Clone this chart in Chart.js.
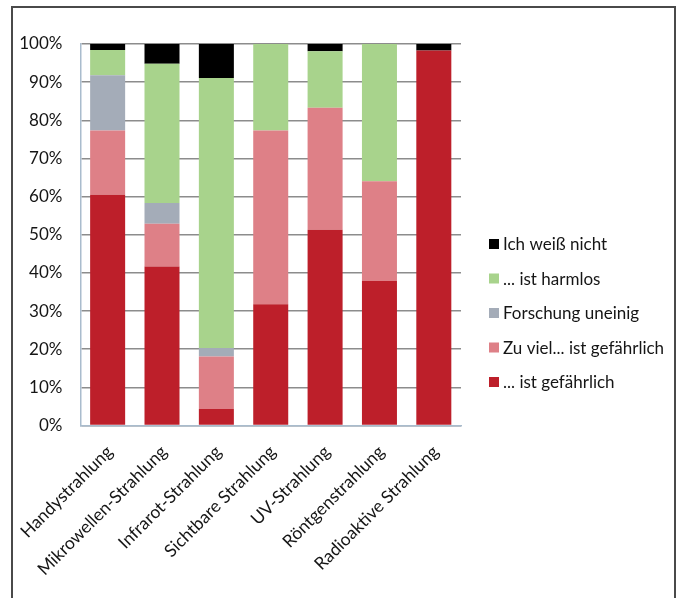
<!DOCTYPE html>
<html>
<head>
<meta charset="utf-8">
<script src="https://cdn.jsdelivr.net/npm/chart.js@4"></script>
<style>
  html, body { margin: 0; padding: 0; background: #fff; }
  #wrap { position: relative; width: 681px; height: 598px; overflow: hidden; }
  #frame { position: absolute; left: 11px; top: 6px; width: 661px; height: 600px;
           border: 2px solid #4a4a4a; border-bottom: none; }
  canvas { position: absolute; left: 0; top: 0; }
</style>
</head>
<body>
<div id="wrap">
  <div id="frame"></div>
  <canvas id="c" width="681" height="598"></canvas>
</div>
<script>
// Kategorien (Strahlungsarten)
const categories = [
  'Handystrahlung', 'Mikrowellen-Strahlung', 'Infrarot-Strahlung',
  'Sichtbare Strahlung', 'UV-Strahlung', 'Röntgenstrahlung', 'Radioaktive Strahlung'
];

// Antwortanteile in Prozent, von unten nach oben gestapelt
const istGefaehrlich   = [60.5, 41.7,  4.3, 31.8, 51.3, 37.9, 98.3];
const zuVielGefaehrlich= [16.8, 11.2, 13.8, 45.5, 32.0, 26.1,  0.0];
const forschungUneinig = [14.5,  5.4,  2.2,  0.0,  0.0,  0.0,  0.0];
const istHarmlos       = [ 6.6, 36.5, 70.8, 22.7, 14.8, 36.0,  0.0];
const weissNicht       = [ 1.6,  5.2,  8.9,  0.0,  1.9,  0.0,  1.7];

const seriesNames = ['... ist gefährlich', 'Zu viel... ist gefährlich',
  'Forschung uneinig', '... ist harmlos', 'Ich weiß nicht'];
const yTicks = [0, 10, 20, 30, 40, 50, 60, 70, 80, 90, 100];

const FONT = 'Lato, "Open Sans", sans-serif';

// Legende rechts neben dem Diagramm, oberster Stapel zuerst
const sideLegend = {
  id: 'sideLegend',
  afterDraw(chart) {
    const ctx = chart.ctx;
    const items = chart.data.datasets.slice().reverse();
    ctx.save();
    ctx.font = '17px ' + FONT;
    ctx.textBaseline = 'middle';
    ctx.textAlign = 'left';
    items.forEach((ds, i) => {
      const y = 244 + i * 34.5;
      ctx.fillStyle = ds.backgroundColor;
      ctx.fillRect(489, y - 5, 10, 10);
      ctx.fillStyle = '#151515';
      ctx.fillText(ds.label, 503, y + 1);
    });
    ctx.restore();
  }
};

const values = [istGefaehrlich, zuVielGefaehrlich, forschungUneinig, istHarmlos, weissNicht];
const colors = ['#BD1F2A', '#DE8087', '#A4ACB8', '#A8D38C', '#000000'];

new Chart(document.getElementById('c'), {
  type: 'bar',
  data: {
    labels: categories,
    datasets: values.map((v, i) => ({
      label: seriesNames[i],
      data: v,
      backgroundColor: colors[i],
      borderWidth: 0,
      categoryPercentage: 1.0,
      barPercentage: 0.644
    }))
  },
  options: {
    responsive: false,
    animation: false,
    layout: { padding: { left: 0, right: 220, top: 44, bottom: 0 } },
    plugins: { legend: { display: false }, tooltip: { enabled: false } },
    scales: {
      x: {
        stacked: true,
        afterFit(s) { s.height = 172.5; },
        grid: { display: false, drawTicks: false },
        border: { display: true, color: '#a9bccd', width: 1.5 },
        ticks: {
          minRotation: 45, maxRotation: 45, autoSkip: false,
          padding: 16, labelOffset: 2,
          color: '#151515', font: { family: FONT, size: 17.5 }
        }
      },
      y: {
        stacked: true, min: 0, max: 100,
        afterFit(s) { s.width = 80; },
        afterBuildTicks(s) { s.ticks = yTicks.map(v => ({ value: v })); },
        grid: { color: '#8c8c8c', lineWidth: 1.5, drawTicks: false },
        border: { display: true, color: '#a9bccd', width: 1.5 },
        ticks: {
          padding: 18, color: '#151515',
          font: { family: FONT, size: 17 },
          callback: v => v + '%'
        }
      }
    }
  },
  plugins: [sideLegend]
});
</script>
</body>
</html>
